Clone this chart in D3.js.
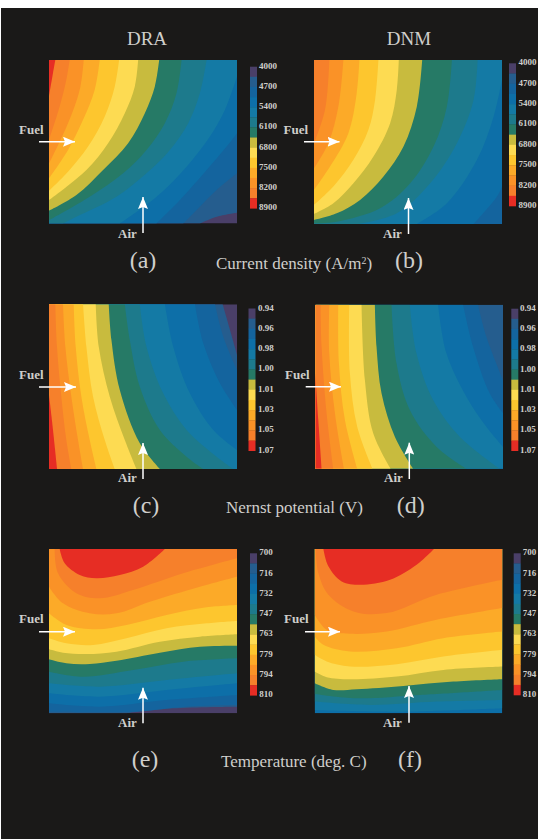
<!DOCTYPE html>
<html>
<head>
<meta charset="utf-8">
<script src="https://cdn.jsdelivr.net/npm/d3@7"></script>
<style>
html,body{margin:0;padding:0;background:#fff}
svg{display:block}
</style>
</head>
<body>
<svg id="chart" width="541" height="839"></svg>
<script>
// Fourteen colour bands, coldest (0) to hottest (13).
const bandColors = ["#4a3f68","#255d8e","#14649e","#0d6fa8","#147aa5","#1d7a8c","#267a66",
                    "#c8bb3e","#fddb52","#fdc62e","#fcaa28","#fa9227","#f6802b","#e62d24"];

const currentTicks = ["4000","4700","5400","6100","6800","7500","8200","8900"];
const nernstTicks = ["0.94","0.96","0.98","1.00","1.01","1.03","1.05","1.07"];
const temperatureTicks = ["700","716","732","747","763","779","794","810"];

const quantityTitles = ["Current density (A/m", "Nernst potential (V)", "Temperature (deg. C)"];
const columnTitles = ["DRA", "DNM"];
const panelTags = ["(a)","(b)","(c)","(d)","(e)","(f)"];

// Iso-level outlines: [band filled on the hot side, points along the outline].
const curvesA = [
  [1,[[600,670],[650,650],[711,638]]],
  [2,[[550,670],[580,640],[650,570],[711,520]]],
  [3,[[470,670],[540,600],[620,510],[680,440],[711,400]]],
  [4,[[360,670],[470,590],[560,500],[630,410],[675,330],[711,230]]],
  [5,[[190,670],[230,650],[350,590],[440,520],[510,450],[565,370],[600,280],[620,181]]],
  [6,[[148,660],[270,590],[370,520],[440,450],[495,370],[530,280],[545,181]]],
  [7,[[148,632],[230,585],[310,510],[385,430],[435,340],[465,260],[478,181]]],
  [8,[[148,600],[260,510],[325,430],[375,340],[405,260],[415,181]]],
  [9,[[148,572],[205,515],[265,440],[315,350],[345,260],[358,181]]],
  [10,[[148,535],[205,450],[250,360],[285,270],[300,181]]],
  [11,[[148,490],[205,370],[240,270],[252,181]]],
  [12,[[148,420],[180,320],[200,240],[210,181]]],
  [13,[[148,290],[160,220],[167,181]]]
];
const curvesB = [
  [3,[[610,672],[680,590],[695,560]]],
  [4,[[440,672],[530,610],[620,480],[670,350],[695,240]]],
  [5,[[265,672],[380,640],[480,550],[560,430],[610,300],[622,181]]],
  [6,[[132,670],[200,665],[330,625],[420,550],[490,440],[530,320],[545,181]]],
  [7,[[132,660],[200,640],[270,600],[340,530],[400,440],[440,320],[456,181]]],
  [8,[[132,642],[190,610],[250,550],[310,470],[360,370],[380,270],[386,181]]],
  [9,[[132,615],[190,560],[250,480],[295,390],[315,300],[325,181]]],
  [10,[[132,570],[180,500],[235,400],[260,280],[268,181]]],
  [11,[[132,505],[175,430],[205,320],[220,181]]],
  [12,[[132,430],[165,330],[178,181]]]
];
const curvesC = [
  [1,[[711,225],[690,150],[668,73]]],
  [2,[[711,270],[670,170],[645,73]]],
  [3,[[711,390],[660,310],[610,190],[585,73]]],
  [4,[[711,510],[640,450],[570,340],[520,200],[495,73]]],
  [5,[[700,567],[650,530],[560,450],[490,340],[440,200],[420,73]]],
  [6,[[610,567],[560,530],[480,450],[420,320],[390,180],[375,73]]],
  [7,[[480,567],[420,490],[360,330],[335,180],[327,73]]],
  [8,[[410,567],[375,480],[330,350],[297,200],[288,73]]],
  [9,[[345,567],[315,480],[280,350],[260,200],[250,73]]],
  [10,[[290,567],[270,480],[245,350],[228,200],[222,73]]],
  [11,[[250,567],[235,480],[215,350],[197,200],[190,73]]],
  [12,[[215,567],[200,480],[185,350],[172,200],[167,73]]],
  [13,[[172,567],[160,450],[148,345]]]
];
const curvesD = [
  [2,[[700,300],[650,170],[625,74]]],
  [3,[[700,400],[660,340],[610,200],[580,74]]],
  [4,[[700,500],[650,440],[590,350],[530,220],[505,74]]],
  [5,[[690,566],[570,470],[490,360],[440,220],[420,74]]],
  [6,[[590,566],[500,500],[420,390],[380,250],[365,74]]],
  [7,[[430,566],[375,470],[335,340],[320,200],[315,74]]],
  [8,[[362,566],[310,460],[285,300],[275,74]]],
  [9,[[308,566],[262,440],[240,280],[238,74]]],
  [10,[[262,566],[225,420],[207,250],[205,74]]],
  [11,[[222,566],[195,400],[178,220],[178,74]]],
  [12,[[190,566],[170,400],[155,200],[152,74]]],
  [13,[[155,566],[145,420],[136,280]]]
];
const curvesE = [
  [1,[[380,550],[520,535],[711,530]]],
  [2,[[148,545],[400,545],[560,530],[711,525]]],
  [3,[[148,520],[300,530],[500,510],[711,495]]],
  [4,[[148,490],[300,500],[500,480],[711,460]]],
  [5,[[148,460],[300,470],[500,450],[711,430]]],
  [6,[[148,425],[250,440],[400,420],[550,395],[711,385]]],
  [7,[[148,388],[200,400],[270,402],[350,392],[480,368],[600,350],[711,347]]],
  [8,[[148,358],[190,368],[260,372],[350,365],[480,335],[600,320],[711,313]]],
  [9,[[148,325],[200,340],[280,345],[380,325],[500,295],[620,280],[711,273]]],
  [10,[[148,250],[200,285],[290,298],[380,285],[500,255],[620,232],[711,225]]],
  [11,[[148,170],[190,220],[270,250],[350,250],[450,215],[600,170],[711,140]]],
  [12,[[165,57],[175,130],[230,190],[300,205],[400,180],[550,130],[711,85]]],
  [13,[[180,57],[195,100],[240,135],[290,145],[360,135],[430,110],[495,57]]]
];
const curvesF = [
  [4,[[134,540],[400,545],[697,535]]],
  [5,[[134,515],[300,525],[500,515],[697,510]]],
  [6,[[134,492],[260,505],[450,495],[697,480]]],
  [7,[[134,460],[190,480],[260,478],[400,468],[550,455],[697,448]]],
  [8,[[134,425],[170,442],[240,448],[380,440],[520,420],[697,410]]],
  [9,[[134,375],[170,395],[240,410],[380,403],[520,380],[697,360]]],
  [10,[[134,320],[160,345],[240,365],[380,355],[520,325],[697,305]]],
  [11,[[134,255],[170,300],[240,312],[350,305],[500,270],[697,235]]],
  [12,[[137,58],[145,130],[175,195],[250,245],[350,250],[500,195],[697,150]]],
  [13,[[160,58],[175,110],[215,155],[270,165],[360,150],[440,105],[492,58]]]
];

// Page geometry for each panel: plot box, colour bar, annotations.
const panels = [
  {curves:curvesA, base:0, ticks:currentTicks, grid:[148,711,181,670], box:[49,237,60,223.5], bar:[250,66.7,208.3], tickX:259, fuel:[19,133.5,39,75,141.7], air:[118,237.5,143,233,197], tag:[143,268]},
  {curves:curvesB, base:2, ticks:currentTicks, grid:[132,695,181,672], box:[314,502,60,224], bar:[509,63.3,206], tickX:518.5, fuel:[283.5,133.5,304,339.5,141.7], air:[383,237.5,408.5,234,198], tag:[409,268]},
  {curves:curvesC, base:0, ticks:nernstTicks, grid:[148,711,73,567], box:[49,237,304.3,469], bar:[248.5,308.5,450.7], tickX:258, fuel:[19,379,39,76,387], air:[118,482,143,479,443], tag:[146,513]},
  {curves:curvesD, base:1, ticks:nernstTicks, grid:[136,700,74,566], box:[315.3,503,304.7,468.7], bar:[511.3,308.7,450.7], tickX:520, fuel:[285,379,305.7,341,386.7], air:[384,482,409.3,479,442.7], tag:[410.7,513]},
  {curves:curvesE, base:0, ticks:temperatureTicks, grid:[148,711,57,550], box:[49,237,549,713.3], bar:[250,553.3,695.3], tickX:259.3, fuel:[19,623,39,75,631.7], air:[118,727,143,723.3,687.7], tag:[145,767]},
  {curves:curvesF, base:3, ticks:temperatureTicks, grid:[134,697,58,550], box:[314.7,502.3,549,713.3], bar:[513.7,553.3,695], tickX:522.7, fuel:[284,623,305,340,631.7], air:[383,727,409,722.7,686], tag:[410,767]}
];

const svg = d3.select("#chart");
const serif = "'Liberation Serif', serif";
const ink = "#cfcecb";

svg.append("rect").attr("x",1).attr("y",8).attr("width",537).attr("height",831).attr("fill","#1a1918");

const defs = svg.append("defs");
defs.append("marker").attr("id","head").attr("viewBox","0 0 12 10").attr("refX",12).attr("refY",5)
  .attr("markerUnits","userSpaceOnUse").attr("markerWidth",12).attr("markerHeight",10).attr("orient","auto")
  .append("path").attr("d","M0,0L12,5L0,10L2,5Z").attr("fill","#fff");

// Corners met when walking the plot boundary from the end of an outline back to its start,
// keeping the hot side enclosed.
function closingCorners(pts, g) {
  const [x0,x1,y0,y1] = g;
  const t = ([x,y]) => {
    const u=(x-x0)/(x1-x0), v=(y-y0)/(y1-y0);
    const opts=[[v,u],[1-u,1+v],[1-v,3-u],[u,4-v]];
    return opts.reduce((a,b)=>b[0]<a[0]?b:a)[1];
  };
  const tEnd=t(pts[pts.length-1]), tStart=t(pts[0]);
  const span=(tEnd-tStart+4)%4;
  const cornerAt=[[x0,y0],[x1,y0],[x1,y1],[x0,y1]];
  const out=[];
  for(let c=Math.floor(tEnd); tEnd-c<span; c--) out.push(cornerAt[((c%4)+4)%4]);
  return out;
}

panels.forEach((p,i)=>{
  const [left,right,top,bottom]=p.box;
  const [gx0,gx1,gy0,gy1]=p.grid;
  const x=d3.scaleLinear().domain([gx0,gx1]).range([left,right]);
  const y=d3.scaleLinear().domain([gy0,gy1]).range([top,bottom]);
  const clipId="plot-"+i;
  defs.append("clipPath").attr("id",clipId).append("rect")
    .attr("x",left).attr("y",top).attr("width",right-left).attr("height",bottom-top);

  const g=svg.append("g").attr("clip-path",`url(#${clipId})`);
  g.append("rect").attr("x",left).attr("y",top).attr("width",right-left).attr("height",bottom-top)
    .attr("fill",bandColors[p.base]);
  const line=d3.line().x(d=>x(d[0])).y(d=>y(d[1])).curve(d3.curveCatmullRom.alpha(0.5));
  g.selectAll("path").data(p.curves).join("path")
    .attr("fill",d=>bandColors[d[0]])
    .attr("d",d=>line(d[1])+closingCorners(d[1],p.grid).map(c=>`L${x(c[0])},${y(c[1])}`).join("")+"Z");

  // Colour bar, coldest band on top, with ticks spread over its full height.
  const [barX,barTop,barBottom]=p.bar;
  const bandY=d3.scaleBand().domain(d3.range(bandColors.length)).range([barTop,barBottom]);
  svg.append("g").selectAll("rect").data(bandColors).join("rect")
    .attr("x",barX).attr("width",7)
    .attr("y",(d,k)=>bandY(k)).attr("height",bandY.bandwidth()+0.3)
    .attr("fill",d=>d);
  const tickY=d3.scalePoint().domain(p.ticks).range([barTop,barBottom]);
  svg.append("g").selectAll("text").data(p.ticks).join("text")
    .attr("x",p.tickX).attr("y",d=>tickY(d)+2)
    .attr("font-family",serif).attr("font-weight","bold").attr("font-size",9)
    .attr("fill",ink).text(d=>d);

  // Inlet arrows and their labels.
  const [fx,fy,fa,fb,fl]=p.fuel, [ax,ay,ac,as,ae]=p.air;
  const arrows=svg.append("g").attr("stroke","#fff").attr("stroke-width",1.5);
  arrows.append("line").attr("x1",fa).attr("x2",fb).attr("y1",fl).attr("y2",fl).attr("marker-end","url(#head)");
  arrows.append("line").attr("x1",ac).attr("x2",ac).attr("y1",as).attr("y2",ae).attr("marker-end","url(#head)");
  const labels=svg.append("g").attr("font-family",serif).attr("font-weight","bold").attr("font-size",13).attr("fill",ink);
  labels.append("text").attr("x",fx).attr("y",fy).text("Fuel");
  labels.append("text").attr("x",ax).attr("y",ay).text("Air");

  svg.append("text").attr("x",p.tag[0]).attr("y",p.tag[1]).attr("text-anchor","middle")
    .attr("font-family",serif).attr("font-size",24).attr("fill",ink).text(panelTags[i]);
});

columnTitles.forEach((t,i)=>{
  svg.append("text").attr("x",[147,409][i]).attr("y",45).attr("text-anchor","middle")
    .attr("font-family",serif).attr("font-size",19).attr("fill",ink).text(t);
});

const captions=svg.append("g").attr("font-family",serif).attr("font-size",17).attr("fill",ink);
const current=captions.append("text").attr("x",216).attr("y",269);
current.append("tspan").text(quantityTitles[0]);
current.append("tspan").attr("dy",-5).attr("font-size",10).text("2");
current.append("tspan").attr("dy",5).text(")");
captions.append("text").attr("x",226).attr("y",513).text(quantityTitles[1]);
captions.append("text").attr("x",221).attr("y",767).text(quantityTitles[2]);
</script>
</body>
</html>
